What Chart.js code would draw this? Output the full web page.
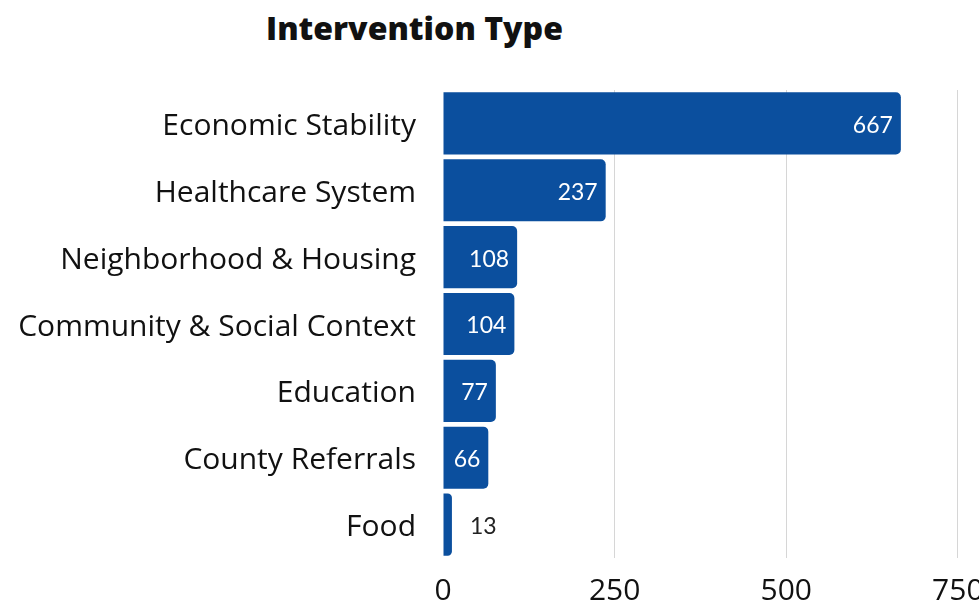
<!DOCTYPE html>
<html>
<head>
<meta charset="utf-8">
<script src="https://cdn.jsdelivr.net/npm/chart.js@4/dist/chart.umd.min.js"></script>
<style>
  html, body { margin: 0; padding: 0; background: #fff; overflow: hidden; width: 979px; height: 606px; }
  #title { position: absolute; left: 266px; top: 6px; margin: 0; font: 800 32px "Open Sans", sans-serif; color: #111; white-space: nowrap; }
  #wrap { position: absolute; left: 0; top: 0; width: 1010px; height: 606px; }
</style>
</head>
<body>
<h1 id="title">Intervention Type</h1>
<div id="wrap"><canvas id="chart"></canvas></div>
<script>
// data
const categories = ['Economic Stability', 'Healthcare System', 'Neighborhood & Housing',
  'Community & Social Context', 'Education', 'County Referrals', 'Food'];
const counts = [667, 237, 108, 104, 77, 66, 13];
const xTicks = [0, 250, 500, 750];

const barColor = '#0b4f9e';

// draws the count at the end of each bar (inside if it fits, else outside)
const valueLabels = {
  id: 'valueLabels',
  afterDatasetsDraw(chart) {
    const ctx = chart.ctx;
    const meta = chart.getDatasetMeta(0);
    ctx.save();
    ctx.font = '23px Lato, sans-serif';
    ctx.textBaseline = 'middle';
    meta.data.forEach((bar, i) => {
      const txt = String(counts[i]);
      const w = ctx.measureText(txt).width;
      const len = bar.x - bar.base;
      if (len > w + 16) {
        ctx.fillStyle = '#fff';
        ctx.textAlign = 'right';
        ctx.fillText(txt, bar.x - 8, bar.y + 2);
      } else {
        ctx.fillStyle = '#222';
        ctx.textAlign = 'left';
        ctx.fillText(txt, bar.x + 18, bar.y + 2);
      }
    });
    ctx.restore();
  }
};

new Chart(document.getElementById('chart'), {
  type: 'bar',
  data: {
    labels: categories,
    datasets: [{
      data: counts,
      backgroundColor: barColor,
      borderRadius: 5,
      barPercentage: 0.93,
      categoryPercentage: 1
    }]
  },
  options: {
    indexAxis: 'y',
    responsive: true,
    maintainAspectRatio: false,
    animation: false,
    layout: { padding: { top: 90, bottom: 0, left: 0, right: 0 } },
    plugins: { legend: { display: false }, tooltip: { enabled: false } },
    scales: {
      x: {
        min: 0,
        max: 826,
        afterBuildTicks: (s) => { s.ticks = xTicks.map(v => ({ value: v })); },
        afterFit: (s) => { s.height = 48; },
        border: { display: false },
        grid: {
          drawTicks: false,
          color: (c) => c.tick && c.tick.value === 0 ? 'rgba(0,0,0,0)' : '#d6d6d6',
          lineWidth: 1
        },
        ticks: { padding: 15, color: '#111', font: { family: 'Open Sans', size: 30 } }
      },
      y: {
        afterFit: (s) => { s.width = 443; },
        border: { display: false },
        grid: { display: false, drawTicks: false },
        ticks: { padding: 27, labelOffset: 3, color: '#111', font: { family: 'Open Sans', size: 30 } }
      }
    }
  },
  plugins: [valueLabels]
});
</script>
</body>
</html>
